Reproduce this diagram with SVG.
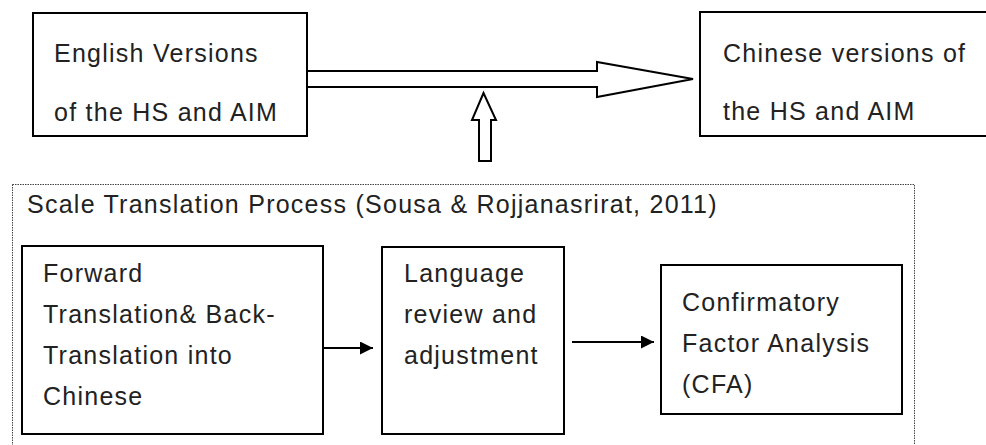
<svg xmlns="http://www.w3.org/2000/svg" width="986" height="445" viewBox="0 0 986 445">
<style>
.box{fill:#fff;stroke:#000;stroke-width:2}
.t{font-family:"Liberation Sans",Arial,sans-serif;font-size:25px;letter-spacing:1.25px;fill:#222}
.frame{fill:none;stroke:#444;stroke-width:1;stroke-dasharray:1.5 1}
.ln{stroke:#000;stroke-width:2;fill:none}
</style>
<defs>
<marker id="ah" markerWidth="13" markerHeight="13" refX="13" refY="6.5" orient="auto" markerUnits="userSpaceOnUse">
<path d="M0,0 L13,6.5 L0,13 Z" fill="#000"/>
</marker>
</defs>
<rect width="986" height="445" fill="#fff"/>
<g id="process-frame">
<rect class="frame" x="12.5" y="184.5" width="902" height="270"/>
<text class="t" x="27" y="213">Scale Translation Process (Sousa &amp; Rojjanasrirat, 2011)</text>
</g>
<g id="english">
<rect class="box" x="33" y="13" width="274" height="123"/>
<text class="t" x="54" y="62">English Versions</text>
<text class="t" x="54" y="121">of the HS and AIM</text>
</g>
<g id="chinese">
<rect class="box" x="700" y="12" width="296" height="124"/>
<text class="t" x="723" y="62">Chinese versions of</text>
<text class="t" x="723" y="120">the HS and AIM</text>
</g>
<g id="forward">
<rect class="box" x="22" y="246" width="301" height="188"/>
<text class="t" x="43" y="282">Forward</text>
<text class="t" x="43" y="323">Translation&amp; Back-</text>
<text class="t" x="43" y="364">Translation into</text>
<text class="t" x="43" y="405">Chinese</text>
</g>
<g id="language">
<rect class="box" x="382" y="247" width="182" height="187"/>
<text class="t" x="404" y="282">Language</text>
<text class="t" x="404" y="323">review and</text>
<text class="t" x="404" y="364">adjustment</text>
</g>
<g id="cfa">
<rect class="box" x="661" y="265" width="241" height="149"/>
<text class="t" x="682" y="311">Confirmatory</text>
<text class="t" x="682" y="352">Factor Analysis</text>
<text class="t" x="682" y="393">(CFA)</text>
</g>
<g id="connectors">
<polygon class="ln" fill="#fff" points="307,71 597,71 597,62 693,79 597,97 597,87 307,87"/>
<polygon class="ln" fill="#fff" points="479,161 491,161 491,120 496,120 483.5,93 472,120 479,120"/>
<line class="ln" x1="323" y1="348" x2="373" y2="348" marker-end="url(#ah)"/>
<line class="ln" x1="572" y1="342" x2="654" y2="342" marker-end="url(#ah)"/>
</g>
</svg>
